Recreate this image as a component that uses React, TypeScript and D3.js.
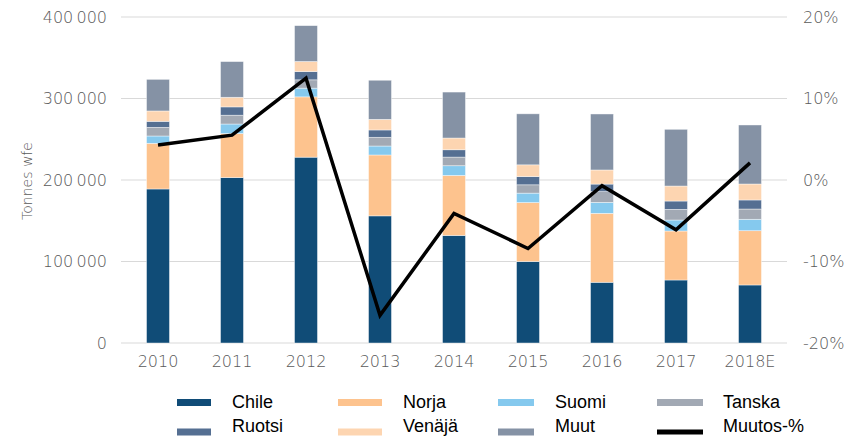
import { useRef, useEffect } from 'react';
import * as d3 from 'd3';

const WIDTH = 852;
const HEIGHT = 439;
const MARGIN = { top: 17, right: 65, bottom: 96, left: 121 };

const years = ['2010', '2011', '2012', '2013', '2014', '2015', '2016', '2017', '2018E'];
const chile = [189000, 203000, 228000, 156000, 132000, 100000, 74500, 77300, 71200];
const norja = [56000, 54000, 74000, 74700, 73600, 72300, 84600, 60100, 66600];
const suomi = [9000, 11700, 10700, 11000, 11900, 11600, 13500, 13500, 14000];
const tanska = [10600, 10800, 10200, 10700, 10600, 10200, 13100, 13100, 12600];
const ruotsi = [7400, 10200, 10200, 9000, 9000, 10100, 9300, 10200, 11100];
const venaja = [12700, 11800, 12300, 13000, 14400, 14400, 17300, 18400, 19600];
const muut = [38800, 43800, 44000, 48000, 56400, 62600, 68700, 69600, 72400];
const muutos = [4.3, 5.5, 12.5, -16.6, -4.1, -8.4, -0.7, -6.1, 2.1];

const leftTicks = [0, 100000, 200000, 300000, 400000];
const rightTicks = [-20, -10, 0, 10, 20];

const series = [
  { key: 'chile', label: 'Chile', values: chile, color: '#104c77' },
  { key: 'norja', label: 'Norja', values: norja, color: '#fdc38e' },
  { key: 'suomi', label: 'Suomi', values: suomi, color: '#85c9ee' },
  { key: 'tanska', label: 'Tanska', values: tanska, color: '#a2a9b4' },
  { key: 'ruotsi', label: 'Ruotsi', values: ruotsi, color: '#556f92' },
  { key: 'venaja', label: 'Venäjä', values: venaja, color: '#fdd5b1' },
  { key: 'muut', label: 'Muut', values: muut, color: '#8592a5' },
];

const AXIS_FONT = "'DejaVu Sans', sans-serif";
const LEGEND_FONT = "'Liberation Sans', Arial, sans-serif";

export default function App() {
  const svgRef = useRef<SVGSVGElement | null>(null);

  useEffect(() => {
    const svg = d3.select(svgRef.current);
    svg.selectAll('*').remove();

    const w = WIDTH - MARGIN.left - MARGIN.right;
    const h = HEIGHT - MARGIN.top - MARGIN.bottom;
    const g = svg.append('g').attr('transform', `translate(${MARGIN.left},${MARGIN.top})`);

    const x = d3.scaleBand().domain(years).range([0, w]).paddingInner(0.69).paddingOuter(0.345);
    const y = d3.scaleLinear().domain([0, 400000]).range([h, 0]);
    const yR = d3.scaleLinear().domain([-20, 20]).range([h, 0]);

    // gridlines
    g.append('g').selectAll('line').data(leftTicks).join('line')
      .attr('x1', 0).attr('x2', w)
      .attr('y1', d => y(d)).attr('y2', d => y(d))
      .attr('stroke', '#d9d9d9').attr('stroke-width', 1.2);

    // left axis
    const fmt = (v: number) => d3.format(',')(v).replace(/,/g, '\u2009');
    const left = g.append('g').call(d3.axisLeft(y).tickValues(leftTicks).tickSize(0).tickPadding(14).tickFormat(d => fmt(+d)));
    left.select('.domain').remove();
    left.selectAll('text').attr('font-family', AXIS_FONT).attr('font-size', '16px')
      .attr('font-weight', 200).attr('fill', '#595959');

    // right axis
    const right = g.append('g').attr('transform', `translate(${w},0)`)
      .call(d3.axisRight(yR).tickValues(rightTicks).tickSize(0).tickPadding(16).tickFormat(d => `${d}%`));
    right.select('.domain').remove();
    right.selectAll('text').attr('font-family', AXIS_FONT).attr('font-size', '16px')
      .attr('font-weight', 200).attr('fill', '#595959');

    // bottom axis
    const bottom = g.append('g').attr('transform', `translate(0,${h})`)
      .call(d3.axisBottom(x).tickSize(0).tickPadding(13));
    bottom.select('.domain').remove();
    bottom.selectAll('text').attr('font-family', AXIS_FONT).attr('font-size', '16px')
      .attr('font-weight', 200).attr('fill', '#595959');

    g.append('text').attr('transform', 'rotate(-90)')
      .attr('x', -(181 - MARGIN.top)).attr('y', 32 - MARGIN.left)
      .attr('text-anchor', 'middle').attr('font-family', AXIS_FONT)
      .attr('font-size', '14px').attr('font-weight', 200).attr('fill', '#595959')
      .text('Tonnes wfe');

    // stacked bars
    const rows = years.map((yr, i) => {
      const row: Record<string, any> = { year: yr };
      series.forEach(s => { row[s.key] = s.values[i]; });
      return row;
    });
    const stacked = d3.stack().keys(series.map(s => s.key))(rows as any);
    stacked.forEach((layer, li) => {
      g.append('g').selectAll('rect').data(layer).join('rect')
        .attr('x', d => x((d.data as any).year)!)
        .attr('width', x.bandwidth())
        .attr('y', d => y(d[1]))
        .attr('height', d => y(d[0]) - y(d[1]))
        .attr('fill', series[li].color)
        .attr('stroke', '#ffffff').attr('stroke-opacity', 0.6).attr('stroke-width', 0.7);
    });

    // change line
    const line = d3.line<number>()
      .x((_, i) => x(years[i])! + x.bandwidth() / 2)
      .y(d => yR(d));
    g.append('path').datum(muutos).attr('d', line)
      .attr('fill', 'none').attr('stroke', '#000').attr('stroke-width', 3.5)
      .attr('stroke-linejoin', 'miter');

    // legend
    const legendItems = [...series, { key: 'muutos', label: 'Muutos-%', color: '#000' }];
    const colSwatch = [177, 338, 498, 657];
    const colSwatchW = [34, 44, 36, 46];
    const colText = [232, 403, 555, 723];
    const swatchY = [402.5, 432];
    const textY = [408, 432];
    legendItems.forEach((item, i) => {
      const r = Math.floor(i / 4);
      const c = i % 4;
      const isLine = item.key === 'muutos';
      svg.append('rect')
        .attr('x', colSwatch[c]).attr('width', colSwatchW[c])
        .attr('y', swatchY[r] - (isLine ? 2.5 : 3.5)).attr('height', isLine ? 5 : 7)
        .attr('fill', item.color);
      svg.append('text')
        .attr('x', colText[c]).attr('y', textY[r])
        .attr('font-family', LEGEND_FONT).attr('font-size', '18px').attr('fill', '#000')
        .text(item.label);
    });
  }, []);

  return (
    <svg ref={svgRef} width={WIDTH} height={HEIGHT}
      style={{ position: 'absolute', left: 0, top: 0, background: '#fff' }} />
  );
}
